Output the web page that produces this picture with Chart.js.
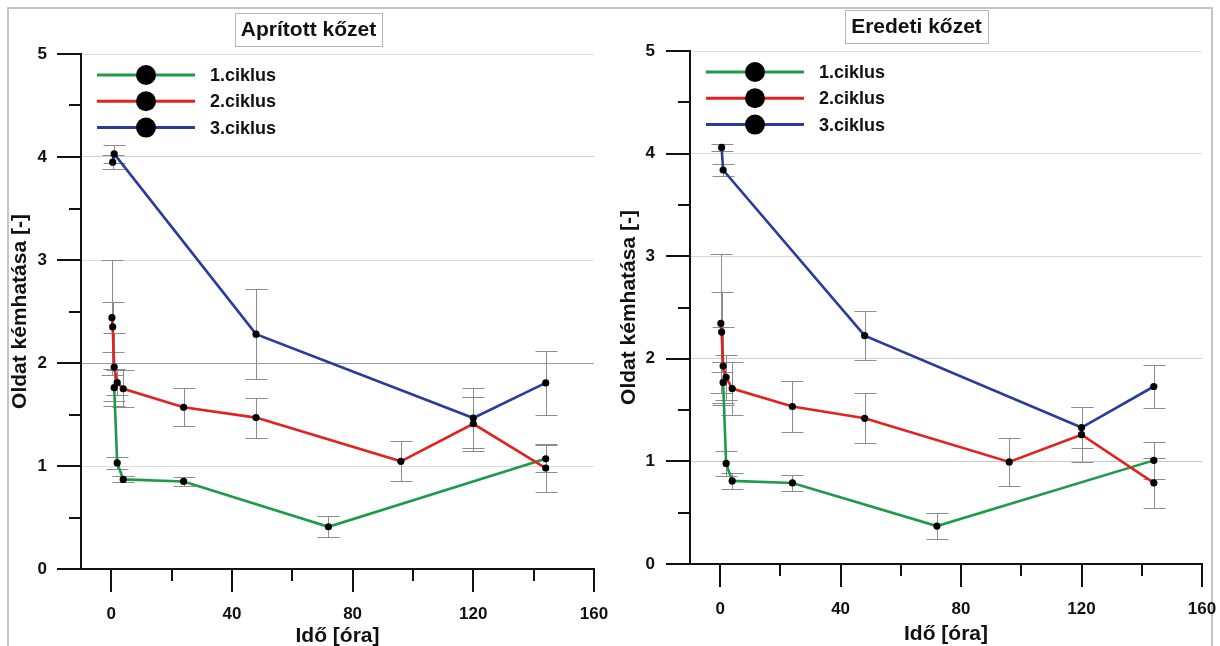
<!DOCTYPE html>
<html><head><meta charset="utf-8">
<script src="https://cdn.jsdelivr.net/npm/chart.js@4.4.1/dist/chart.umd.min.js"></script>
<style>
html,body{margin:0;padding:0;background:#fff;}
#wrap{position:relative;width:1220px;height:646px;overflow:hidden;background:#fff;}
#frame{position:absolute;left:7px;top:7px;width:1206px;height:680px;border:2px solid #c4c4c4;box-sizing:border-box;}
canvas{position:absolute;top:0;}
</style></head><body>
<div id="wrap">
<div id="frame"></div>
<canvas id="c1" width="610" height="646" style="left:0;width:610px;height:646px"></canvas>
<canvas id="c2" width="610" height="646" style="left:610px;width:610px;height:646px"></canvas>
</div>
<script>
// ---- shared labels / ticks ----
const SERIES_LABELS = ['1.ciklus', '2.ciklus', '3.ciklus'];
const SERIES_COLORS = ['#1f9a4a', '#e0231f', '#2a3b9c'];
const X_TITLE = 'Idő [óra]';
const Y_TITLE = 'Oldat kémhatása [-]';
const X_TICKS = [-10, 0, 20, 40, 60, 80, 100, 120, 140, 160];
const X_LABELED = [0, 40, 80, 120, 160];
const Y_TICKS = [0, 0.5, 1, 1.5, 2, 2.5, 3, 3.5, 4, 4.5, 5];
const Y_LABELED = [0, 1, 2, 3, 4, 5];

// ---- Panel A: Aprított kőzet ----
const A_TITLE = 'Aprított kőzet';
const A1_T = [1, 2, 4, 24, 72, 144];
const A1_V = [1.76, 1.03, 0.87, 0.85, 0.41, 1.07];
const A1_E = [0.18, 0.055, 0.03, 0.04, 0.10, 0.13];
const A2_T = [0.25, 0.5, 1, 2, 4, 24, 48, 96, 120, 144];
const A2_V = [2.44, 2.35, 1.96, 1.81, 1.75, 1.57, 1.47, 1.045, 1.41, 0.98];
const A2_E = [0.56, 0.24, 0.33, 0.12, 0.18, 0.185, 0.195, 0.195, 0.26, 0.235];
const A3_T = [0.5, 1, 48, 120, 144];
const A3_V = [3.95, 4.03, 2.28, 1.466, 1.807];
const A3_E = [0.07, 0.09, 0.44, 0.29, 0.31];

// ---- Panel B: Eredeti kőzet ----
const B_TITLE = 'Eredeti kőzet';
const B1_T = [1, 2, 4, 24, 72, 144];
const B1_V = [1.77, 0.98, 0.81, 0.79, 0.37, 1.01];
const B1_E = [0.20, 0.12, 0.08, 0.08, 0.125, 0.18];
const B2_T = [0.25, 0.5, 1, 2, 4, 24, 48, 96, 120, 144];
const B2_V = [2.345, 2.26, 1.93, 1.82, 1.71, 1.535, 1.42, 0.995, 1.26, 0.79];
const B2_E = [0.68, 0.39, 0.38, 0.22, 0.26, 0.245, 0.245, 0.233, 0.27, 0.245];
const B3_T = [0.5, 1, 48, 120, 144];
const B3_V = [4.06, 3.84, 2.225, 1.33, 1.73];
const B3_E = [0.03, 0.06, 0.24, 0.20, 0.21];

const FONT = '"Liberation Sans", Arial, Helvetica, sans-serif';
Chart.defaults.font.family = FONT;

function hline(ctx, x1, y1, x2, y2) { ctx.beginPath(); ctx.moveTo(x1, y1); ctx.lineTo(x2, y2); ctx.stroke(); }

const errorBarPlugin = {
  id: 'errbars',
  beforeDatasetsDraw(chart) {
    const { ctx, scales: { x, y } } = chart;
    ctx.save();
    ctx.strokeStyle = '#8c8c8c';
    ctx.lineWidth = 1;
    chart.data.datasets.forEach(ds => {
      ds.data.forEach((p, j) => {
        const e = ds.err[j];
        if (!e) return;
        const px = Math.round(x.getPixelForValue(p.x)) + 0.5;
        const y1 = Math.round(y.getPixelForValue(p.y + e)) + 0.5;
        const y2 = Math.round(y.getPixelForValue(p.y - e)) + 0.5;
        ctx.beginPath();
        ctx.moveTo(px, y1); ctx.lineTo(px, y2);
        ctx.moveTo(px - 11, y1); ctx.lineTo(px + 11, y1);
        ctx.moveTo(px - 11, y2); ctx.lineTo(px + 11, y2);
        ctx.stroke();
      });
    });
    ctx.restore();
  }
};

const decoPlugin = {
  id: 'deco',
  afterDraw(chart) {
    const { ctx, scales: { x, y }, chartArea: a } = chart;
    const g = chart.options.plugins.deco;
    ctx.save();
    // tick marks
    ctx.strokeStyle = '#111';
    ctx.lineWidth = 2;
    Y_TICKS.forEach(v => {
      const py = Math.round(y.getPixelForValue(v));
      const len = Y_LABELED.includes(v) ? 24 : 12;
      hline(ctx, a.left - len, py, a.left, py);
    });
    X_TICKS.forEach(v => {
      if (v < 0) return;
      const px = Math.round(x.getPixelForValue(v));
      const len = X_LABELED.includes(v) ? 23 : 12;
      hline(ctx, px, a.bottom, px, a.bottom + len);
    });
    // title box
    ctx.font = 'bold 21px ' + FONT;
    const w = ctx.measureText(g.title).width;
    const bw = Math.round(w + 12), bh = 33;
    const bx = Math.round(g.titleX - bw / 2) + 0.5, by = Math.round(g.titleY - bh / 2) + 0.5;
    ctx.fillStyle = '#fff';
    ctx.fillRect(bx, by, bw, bh);
    ctx.strokeStyle = '#b4b4b4';
    ctx.lineWidth = 1;
    ctx.strokeRect(bx, by, bw, bh);
    ctx.fillStyle = '#111';
    ctx.textAlign = 'center';
    ctx.textBaseline = 'middle';
    ctx.fillText(g.title, g.titleX, g.titleY + 1);
    // legend
    chart.data.datasets.forEach((ds, i) => {
      const yy = a.top + 21 + i * 26.3;
      ctx.strokeStyle = ds.borderColor;
      ctx.lineWidth = 3;
      hline(ctx, a.left + 16, yy, a.left + 114, yy);
      ctx.fillStyle = '#000';
      ctx.beginPath(); ctx.arc(a.left + 65, yy, 10, 0, Math.PI * 2); ctx.fill();
      ctx.fillStyle = '#111';
      ctx.font = 'bold 18px ' + FONT;
      ctx.textAlign = 'left';
      ctx.textBaseline = 'middle';
      ctx.fillText(ds.label, a.left + 129, yy + 1);
    });
    ctx.restore();
  }
};

function zeroPad(s) { s.paddingLeft = 0; s.paddingRight = 0; s.paddingTop = 0; s.paddingBottom = 0; }

function makePanel(id, title, series, geom) {
  const datasets = series.map((s, i) => ({
    label: SERIES_LABELS[i],
    data: s.t.map((t, j) => ({ x: t, y: s.v[j] })),
    err: s.e,
    borderColor: SERIES_COLORS[i],
    backgroundColor: '#000',
    borderWidth: 2.6,
    pointRadius: 3.6,
    pointHoverRadius: 3.6,
    pointBackgroundColor: '#000',
    pointBorderWidth: 0,
    tension: 0,
    order: 3 - i
  }));
  return new Chart(document.getElementById(id), {
    type: 'line',
    data: { datasets },
    plugins: [errorBarPlugin, decoPlugin],
    options: {
      responsive: false,
      animation: false,
      devicePixelRatio: 1,
      layout: { padding: { top: geom.top, right: geom.right, left: 0, bottom: 0 } },
      plugins: {
        legend: { display: false },
        tooltip: { enabled: false },
        deco: { title: title, titleX: geom.titleX, titleY: geom.titleY }
      },
      scales: {
        x: {
          type: 'linear', min: -10, max: 160,
          afterBuildTicks: s => { s.ticks = X_TICKS.map(v => ({ value: v })); },
          afterFit: s => { s.height = geom.xh; zeroPad(s); },
          grid: { display: false, drawTicks: false },
          border: { display: true, color: '#111', width: 2 },
          ticks: {
            padding: geom.xpad, color: '#111', autoSkip: false, maxRotation: 0,
            font: { family: FONT, size: 17, weight: 'bold' },
            callback: v => X_LABELED.includes(v) ? String(v) : ''
          },
          title: { display: true, text: X_TITLE, color: '#111', padding: { top: 0, bottom: geom.xtb },
                   font: { family: FONT, size: 21, weight: 'bold' } }
        },
        y: {
          type: 'linear', min: 0, max: 5,
          afterBuildTicks: s => { s.ticks = Y_TICKS.map(v => ({ value: v })); },
          afterFit: s => { s.width = geom.yw; zeroPad(s); },
          grid: {
            drawTicks: false, lineWidth: 1,
            color: c => {
              const v = c.tick ? c.tick.value : 0;
              if (!Number.isInteger(v) || v === 0) return 'rgba(0,0,0,0)';
              return geom.gridColors[v] || '#d8d8d8';
            }
          },
          border: { display: true, color: '#111', width: 2 },
          ticks: {
            padding: geom.ypad, color: '#111', autoSkip: false,
            font: { family: FONT, size: 17, weight: 'bold' },
            callback: v => Y_LABELED.includes(v) ? String(v) : ''
          },
          title: { display: true, text: Y_TITLE, color: '#111', padding: { top: geom.ytp, bottom: 0 },
                   font: { family: FONT, size: 21, weight: 'bold' } }
        }
      }
    }
  });
}

makePanel('c1', A_TITLE, [
  { t: A1_T, v: A1_V, e: A1_E },
  { t: A2_T, v: A2_V, e: A2_E },
  { t: A3_T, v: A3_V, e: A3_E }
], { top: 54, right: 16, yw: 81, xh: 77, ypad: 34, xpad: 35, xtb: -3, ytp: 8, titleX: 308.5, titleY: 29.5,
     gridColors: { 1: '#dcdcdc', 2: '#9a9a9a', 3: '#dcdcdc', 4: '#d0d0d0', 5: '#e0e0e0' } });

makePanel('c2', B_TITLE, [
  { t: B1_T, v: B1_V, e: B1_E },
  { t: B2_T, v: B2_V, e: B2_E },
  { t: B3_T, v: B3_V, e: B3_E }
], { top: 51, right: 18, yw: 80, xh: 82, ypad: 35, xpad: 35, xtb: -1, ytp: 7, titleX: 306.5, titleY: 26,
     gridColors: { 1: '#c8c8c8', 2: '#d0d0d0', 3: '#d8d8d8', 4: '#dcdcdc', 5: '#e0e0e0' } });
</script>
</body></html>
